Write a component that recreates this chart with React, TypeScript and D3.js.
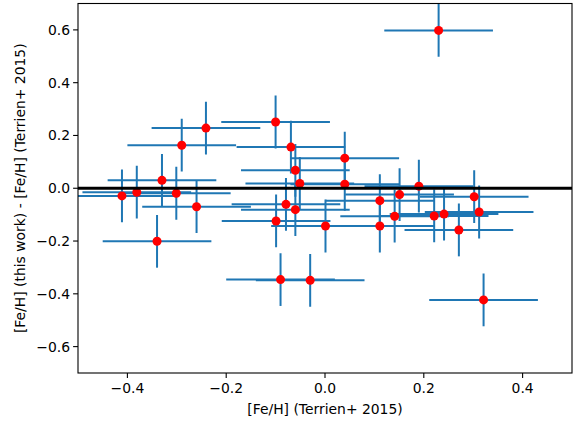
import { useEffect, useRef } from 'react';
import * as d3 from 'd3';

// [Fe/H] from Terrien+ 2015 (x) and difference this work - Terrien (y)
const feTerrien = [
  -0.411, -0.381, -0.330, -0.301, -0.340, -0.290, -0.260, -0.241,
  -0.100, -0.069, -0.060, -0.051, 0.040, 0.040, -0.079, -0.060,
  -0.099, 0.001, -0.090, -0.030, 0.111, 0.151, 0.190, 0.141,
  0.111, 0.221, 0.241, 0.271, 0.302, 0.312, 0.230, 0.321,
];
const feDiff = [
  -0.029, -0.015, 0.030, -0.019, -0.201, 0.163, -0.070, 0.228,
  0.251, 0.156, 0.068, 0.018, 0.114, 0.015, -0.061, -0.081,
  -0.124, -0.143, -0.346, -0.349, -0.047, -0.024, 0.008, -0.106,
  -0.143, -0.105, -0.098, -0.158, -0.032, -0.090, 0.598, -0.423,
];
const xErr = 0.11;
const yErr = 0.1;
const xTicks = [-0.4, -0.2, 0.0, 0.2, 0.4];
const yTicks = [-0.6, -0.4, -0.2, 0.0, 0.2, 0.4, 0.6];

const W = 579, H = 421;
const FONT = 'DejaVu Sans, sans-serif';

export default function App() {
  const ref = useRef<SVGSVGElement>(null);

  useEffect(() => {
    if (!ref.current) return;
    const svg = d3.select(ref.current);
    svg.selectAll('*').remove();

    const left = 78, right = 572, top = 3.5, bottom = 373;
    const x = d3.scaleLinear().domain([-0.5, 0.5]).range([left, right]);
    const y = d3.scaleLinear().domain([-0.7, 0.7]).range([bottom, top]);
    const fmt = (v: number) => d3.format('.1f')(v).replace('-', '\u2212');

    svg.append('defs').append('clipPath').attr('id', 'plot-clip')
      .append('rect').attr('x', left).attr('y', top)
      .attr('width', right - left).attr('height', bottom - top);

    const g = svg.append('g').attr('clip-path', 'url(#plot-clip)');
    const data = feTerrien.map((v, i) => ({ x: v, y: feDiff[i] }));

    // error bars
    data.forEach(d => {
      g.append('line')
        .attr('x1', x(d.x - xErr)).attr('x2', x(d.x + xErr))
        .attr('y1', y(d.y)).attr('y2', y(d.y))
        .attr('stroke', '#1f77b4').attr('stroke-width', 2);
      g.append('line')
        .attr('x1', x(d.x)).attr('x2', x(d.x))
        .attr('y1', y(d.y - yErr)).attr('y2', y(d.y + yErr))
        .attr('stroke', '#1f77b4').attr('stroke-width', 2);
    });
    // markers
    g.selectAll('circle.pt').data(data).join('circle')
      .attr('class', 'pt')
      .attr('cx', d => x(d.x)).attr('cy', d => y(d.y)).attr('r', 4.5)
      .attr('fill', '#ff0000');

    // zero line
    g.append('line')
      .attr('x1', left).attr('x2', right)
      .attr('y1', y(0)).attr('y2', y(0))
      .attr('stroke', '#000').attr('stroke-width', 2.8);

    // frame
    svg.append('rect')
      .attr('x', left).attr('y', top)
      .attr('width', right - left).attr('height', bottom - top)
      .attr('fill', 'none').attr('stroke', '#000').attr('stroke-width', 1.1);

    // x ticks
    xTicks.forEach(t => {
      svg.append('line').attr('x1', x(t)).attr('x2', x(t))
        .attr('y1', bottom).attr('y2', bottom + 4.9)
        .attr('stroke', '#000').attr('stroke-width', 1.1);
      svg.append('text').attr('x', x(t)).attr('y', bottom + 20)
        .attr('text-anchor', 'middle').attr('font-family', FONT)
        .attr('font-size', 13.9).attr('fill', '#000').text(fmt(t));
    });
    // y ticks
    yTicks.forEach(t => {
      svg.append('line').attr('x1', left - 4.9).attr('x2', left)
        .attr('y1', y(t)).attr('y2', y(t))
        .attr('stroke', '#000').attr('stroke-width', 1.1);
      svg.append('text').attr('x', left - 8).attr('y', y(t))
        .attr('text-anchor', 'end').attr('dominant-baseline', 'central')
        .attr('font-family', FONT).attr('font-size', 13.9).attr('fill', '#000')
        .text(fmt(t));
    });

    // axis labels
    svg.append('text').attr('x', (left + right) / 2).attr('y', 414)
      .attr('text-anchor', 'middle').attr('font-family', FONT)
      .attr('font-size', 13.9).attr('fill', '#000')
      .text('[Fe/H] (Terrien+ 2015)');
    svg.append('text')
      .attr('transform', `translate(25,${(top + bottom) / 2}) rotate(-90)`)
      .attr('text-anchor', 'middle').attr('font-family', FONT)
      .attr('font-size', 13.9).attr('fill', '#000')
      .text('[Fe/H] (this work) - [Fe/H] (Terrien+ 2015)');
  }, []);

  return (
    <svg ref={ref} width={W} height={H}
      style={{ position: 'absolute', left: 0, top: 0, background: '#fff' }} />
  );
}
